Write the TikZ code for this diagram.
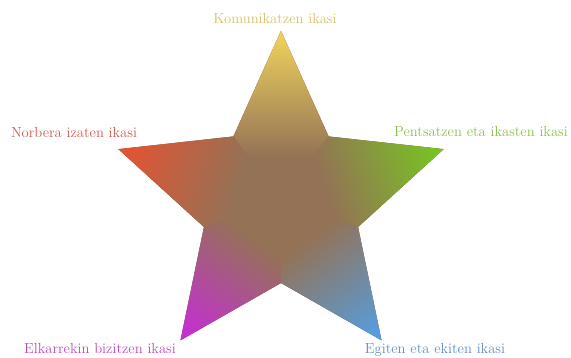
\documentclass[tikz,border=0pt]{standalone}
\usepackage{tikz}
\usetikzlibrary{calc}
\definecolor{komyel}{RGB}{240,212,92}
\definecolor{norred}{RGB}{230,82,50}
\definecolor{pengrn}{RGB}{118,200,32}
\definecolor{elkmag}{RGB}{200,42,220}
\definecolor{egiblu}{RGB}{82,160,230}
\definecolor{starcore}{RGB}{148,114,86}
\definecolor{komtxt}{RGB}{215,192,100}
\definecolor{nortxt}{RGB}{205,92,80}
\definecolor{pentxt}{RGB}{140,190,76}
\definecolor{elktxt}{RGB}{185,76,185}
\definecolor{egitxt}{RGB}{96,140,200}

\begin{document}
\begin{tikzpicture}[
    x=1pt,y=1pt,
    lbl/.style={font=\fontsize{14.6}{16}\selectfont,anchor=base,inner sep=0pt}
]
\useasboundingbox (0,0) rectangle (571,358);
\coordinate (C) at (281,156);
% star body under the arms, so no seams show
\fill[starcore] ($(C)+(90:171)$) -- ($(C)+(54:81)$) -- ($(C)+(18:171)$) -- ($(C)+(-18:81)$)
  -- ($(C)+(-54:171)$) -- ($(C)+(-90:81)$) -- ($(C)+(-126:171)$) -- ($(C)+(-162:81)$)
  -- ($(C)+(162:171)$) -- ($(C)+(126:81)$) -- cycle;
% one shaded kite per arm
\foreach \ang/\col in {90/komyel,162/norred,18/pengrn,234/elkmag,306/egiblu}{
  \begin{scope}
    \clip (C) -- ($(C)+(\ang+36:81)$) -- ($(C)+(\ang:171)$) -- ($(C)+(\ang-36:81)$) -- cycle;
    \fill[starcore] (C) circle (180);
    \begin{scope}[transform canvas={rotate around={\ang-90:(C)}}]
      \shade[bottom color=starcore,top color=\col] ($(C)+(-100,45)$) rectangle ($(C)+(100,171)$);
    \end{scope}
  \end{scope}
}
\node[lbl,text=komtxt] (komunikatzen) at (275,334) {Komunikatzen ikasi};
\node[lbl,text=nortxt] (norbera) at (74,220) {Norbera izaten ikasi};
\node[lbl,text=pentxt] (pentsatzen) at (481,221) {Pentsatzen eta ikasten ikasi};
\node[lbl,text=elktxt] (elkarrekin) at (100,4) {Elkarrekin bizitzen ikasi};
\node[lbl,text=egitxt] (egiten) at (435,4) {Egiten eta ekiten ikasi};
\end{tikzpicture}
\end{document}
